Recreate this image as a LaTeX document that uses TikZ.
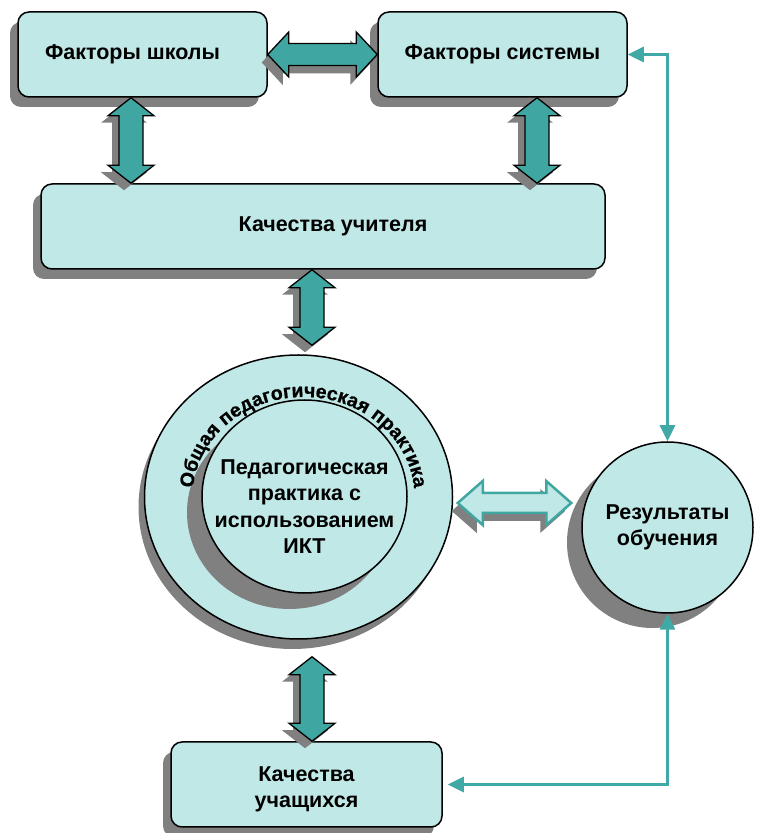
\documentclass[tikz,border=0pt]{standalone}
\usepackage{fontspec}
\setmainfont{Liberation Sans}
\newfontfamily\ringfont[FakeBold=0.8]{Liberation Sans Bold}
\usetikzlibrary{calc,shadows,arrows.meta,decorations.text,shapes.geometric}

\definecolor{boxc}{RGB}{192,232,230}
\definecolor{tealc}{RGB}{64,166,162}
\definecolor{shc}{RGB}{128,128,128}
\definecolor{linec}{RGB}{64,168,165}

\tikzset{
  txt/.style={font=\bfseries\fontsize{21.5}{26.5}\selectfont, align=center},
  box/.style={txt, draw=black, line width=1.5pt, fill=boxc, rounded corners=11pt,
    minimum width=#1, minimum height=85pt, inner sep=0pt,
    drop shadow={shadow xshift=-8pt, shadow yshift=-10pt, fill=shc, opacity=1}},
  ring/.style={ellipse, draw=black, line width=1.5pt, fill=boxc, inner sep=0pt,
    minimum width=308pt, minimum height=284pt,
    drop shadow={shadow xshift=-6pt, shadow yshift=-10pt, fill=shc, opacity=1}},
  core/.style={ellipse, draw=black, line width=1.5pt, fill=boxc, inner sep=0pt,
    minimum width=205pt, minimum height=193pt,
    drop shadow={shadow xshift=-15pt, shadow yshift=-16pt, fill=shc, opacity=1}},
  result/.style={txt, circle, draw=black, line width=1.5pt, fill=boxc, inner sep=0pt,
    minimum size=171pt,
    drop shadow={shadow xshift=-15pt, shadow yshift=-15pt, fill=shc, opacity=1}},
  solidarrow/.style={fill=tealc, draw=black, line width=1.3pt, line join=miter},
  hollowarrow/.style={fill=boxc, draw=tealc, line width=2.5pt, line join=miter},
  arrowshadow/.style={fill=shc},
  conn/.style={draw=linec, line width=3pt,
    {Triangle[length=16pt,width=15pt]}-{Triangle[length=16pt,width=15pt]}},
}

% vertical double arrow, #1 = top tip, #2 = bottom tip
\newcommand\vdarr[2]{%
  \fill[arrowshadow, transform canvas={shift={(-7pt,-7pt)}}]
    (#1) -- ($(#1)+(23,-18)$) -- ($(#1)+(12,-18)$) -- ($(#2)+(12,18)$) -- ($(#2)+(23,18)$)
    -- (#2) -- ($(#2)+(-23,18)$) -- ($(#2)+(-12,18)$) -- ($(#1)+(-12,-18)$) -- ($(#1)+(-23,-18)$) -- cycle;
  \filldraw[solidarrow]
    (#1) -- ($(#1)+(23,-18)$) -- ($(#1)+(12,-18)$) -- ($(#2)+(12,18)$) -- ($(#2)+(23,18)$)
    -- (#2) -- ($(#2)+(-23,18)$) -- ($(#2)+(-12,18)$) -- ($(#1)+(-12,-18)$) -- ($(#1)+(-23,-18)$) -- cycle;
}
% horizontal double arrow, #1 style, #2 left tip, #3 right tip, #4 head half, #5 shaft half, #6 head length
\newcommand\hdarr[6]{%
  \fill[arrowshadow, transform canvas={shift={(-6pt,-8pt)}}]
    (#2) -- ($(#2)+(#6,#4)$) -- ($(#2)+(#6,#5)$) -- ($(#3)+(-#6,#5)$) -- ($(#3)+(-#6,#4)$)
    -- (#3) -- ($(#3)+(-#6,-#4)$) -- ($(#3)+(-#6,-#5)$) -- ($(#2)+(#6,-#5)$) -- ($(#2)+(#6,-#4)$) -- cycle;
  \filldraw[#1]
    (#2) -- ($(#2)+(#6,#4)$) -- ($(#2)+(#6,#5)$) -- ($(#3)+(-#6,#5)$) -- ($(#3)+(-#6,#4)$)
    -- (#3) -- ($(#3)+(-#6,-#4)$) -- ($(#3)+(-#6,-#5)$) -- ($(#2)+(#6,-#5)$) -- ($(#2)+(#6,-#4)$) -- cycle;
}

\begin{document}
\begin{tikzpicture}[x=1pt,y=1pt]
\useasboundingbox (0,0) rectangle (757,833);

% boxes
\node[box=249pt] (fsch) at (142.5,778.5) {\hspace*{-20pt}Факторы школы};
\node[box=249pt] (fsys) at (502.5,778.5) {Факторы системы};
\node[box=564pt] (tk) at (323,606.5) {\hspace*{20pt}Качества учителя};
\node[box=271pt, label={[txt, yshift=-5pt]center:Качества\\учащихся}] (ku) at (306.5,48.5) {};

% circles
\node[ring] (og) at (298.5,336) {};
\node[core, label={[txt, yshift=-10pt]center:Педагогическая\\практика с\\использованием\\ИКТ}] (pp) at (304.5,336.5) {};
\node[result] (res) at (667.5,305.5) {Результаты\\обучения};

% text along the ring
\path[decorate, decoration={text along path, text align=center,
    text={|\ringfont\fontsize{19.5}{21}\selectfont|Общая педагогическая практика}}]
  (303.5,336) ++(174:111 and 100) arc[start angle=174, end angle=6, x radius=111, y radius=100];

% helper coordinates
\coordinate (a1) at ($(fsch.south)+(-11.5,0)$);
\coordinate (a2) at ($(fsys.south)+(34.5,0)$);
\coordinate (a3) at ($(tk.south)+(-11,0)$);
\coordinate (a4) at ($(ku.north)+(5.5,0)$);
\coordinate (h1) at ($(og.east)+(4.5,-6)$);

% solid double arrows
\hdarr{solidarrow}{fsch.east}{fsys.west}{22.5}{11}{21}
\vdarr{a1}{a1 |- tk.north}
\vdarr{a2}{a2 |- tk.north}
\vdarr{a3}{$(a3 |- og.north)+(0,9)$}
\vdarr{$(a4 |- og.south)+(0,-17)$}{a4}

% hollow double arrow
\hdarr{hollowarrow}{h1}{$(h1 -| res.west)+(-10,0)$}{22}{10}{25}

% connectors
\draw[conn] (fsys.east) -| (res.north);
\draw[conn, shorten >=5pt] (res.south) |- (ku.east);
\end{tikzpicture}
\end{document}
